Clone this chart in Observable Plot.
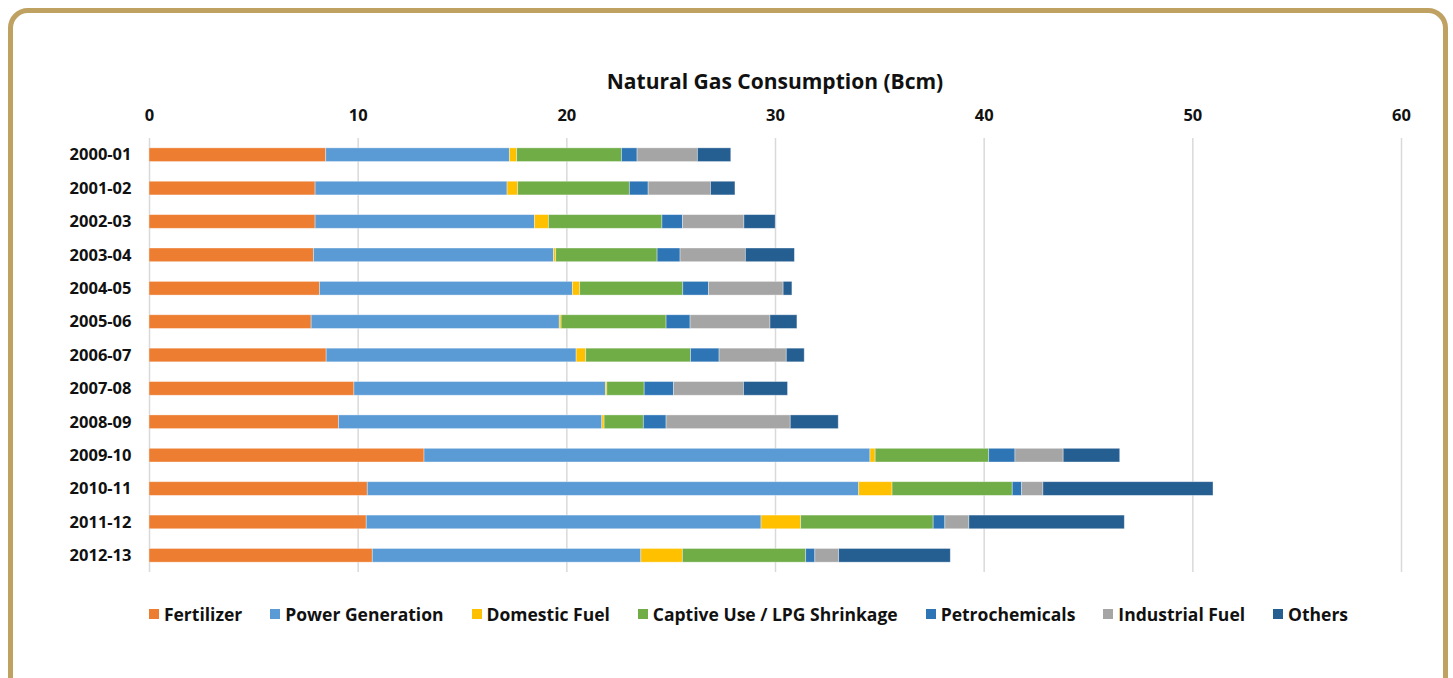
<!DOCTYPE html>
<html>
<head>
<meta charset="utf-8">
<script src="https://cdn.jsdelivr.net/npm/d3@7"></script>
<script src="https://cdn.jsdelivr.net/npm/@observablehq/plot@0.6"></script>
<style>
  html, body { margin: 0; padding: 0; background: #fff; overflow: hidden; }
  #wrap { position: relative; width: 1453px; height: 678px; font-family: "Open Sans", sans-serif; }
  #frame { position: absolute; left: 8px; top: 8px; width: 1430px; height: 700px; border: 5px solid #bfa162; border-radius: 20px; }
  #title { position: absolute; top: 67px; left: 149px; width: 1252px; text-align: center; font-weight: 700; font-size: 21px; color: #111; }
  #chart { position: absolute; left: 0; top: 95px; }
  #legend { position: absolute; top: 602px; left: 0; width: 1453px; display: flex; justify-content: center; gap: 28px; font-weight: 700; font-size: 17.5px; color: #111; box-sizing: border-box; padding-left: 44px; }
  #legend .item { display: flex; align-items: center; gap: 5px; }
  #legend .sw { width: 10px; height: 10px; display: inline-block; }
  #chart text { font-family: "Open Sans", sans-serif; }
</style>
</head>
<body>
<div id="wrap">
  <div id="frame"></div>
  <div id="title">Natural Gas Consumption (Bcm)</div>
  <div id="chart"></div>
  <div id="legend"></div>
</div>
<script>
const years = ["2000-01","2001-02","2002-03","2003-04","2004-05","2005-06","2006-07","2007-08","2008-09","2009-10","2010-11","2011-12","2012-13"];
const seriesNames = ["Fertilizer","Power Generation","Domestic Fuel","Captive Use / LPG Shrinkage","Petrochemicals","Industrial Fuel","Others"];
const seriesColors = ["#ED7D31","#5B9BD5","#FFC000","#70AD47","#2E75B6","#A5A5A5","#255E91"];

const fertilizer      = [8.47, 7.96, 7.96, 7.88, 8.17, 7.77, 8.49, 9.82, 9.08, 13.18, 10.46, 10.41, 10.70];
const powerGeneration = [8.80, 9.20, 10.51, 11.50, 12.12, 11.89, 11.98, 12.05, 12.62, 21.37, 23.55, 18.92, 12.87];
const domesticFuel    = [0.35, 0.51, 0.67, 0.11, 0.35, 0.09, 0.46, 0.07, 0.11, 0.25, 1.60, 1.90, 1.99];
const captiveUse      = [5.02, 5.35, 5.44, 4.86, 4.94, 5.03, 5.02, 1.79, 1.88, 5.44, 5.76, 6.35, 5.91];
const petrochemicals  = [0.75, 0.90, 0.99, 1.10, 1.23, 1.15, 1.37, 1.40, 1.09, 1.26, 0.45, 0.56, 0.44];
const industrialFuel  = [2.89, 2.99, 2.94, 3.13, 3.58, 3.83, 3.22, 3.36, 5.95, 2.31, 1.02, 1.15, 1.14];
const others          = [1.60, 1.17, 1.50, 2.35, 0.42, 1.29, 0.86, 2.11, 2.30, 2.71, 8.15, 7.45, 5.35];
const xTicks = [0, 10, 20, 30, 40, 50, 60];

const seriesValues = [fertilizer, powerGeneration, domesticFuel, captiveUse, petrochemicals, industrialFuel, others];
const data = [];
years.forEach((y, i) => {
  seriesNames.forEach((s, j) => data.push({year: y, series: s, value: seriesValues[j][i]}));
});

const chart = Plot.plot({
  width: 1453,
  height: 482,
  marginLeft: 149,
  marginRight: 52,
  marginTop: 43,
  marginBottom: 5,
  x: {domain: [0, 60], ticks: xTicks, axis: null, label: null},
  y: {domain: years, paddingInner: 0.59, paddingOuter: 0.295, round: false, axis: null, label: null},
  color: {domain: seriesNames, range: seriesColors},
  marks: [
    Plot.gridX(xTicks, {stroke: "#d9d9d9", strokeOpacity: 1, strokeWidth: 1.5}),
    Plot.barX(data, {x: "value", y: "year", fill: "series", stroke: "white", strokeOpacity: 0.45, strokeWidth: 0.8}),
    Plot.axisX(xTicks, {anchor: "top", label: null, tickSize: 0, tickPadding: 18, fontSize: 16.5, fontWeight: 700, fill: "#111", tickFormat: d => String(d)}),
    Plot.axisY({anchor: "left", label: null, tickSize: 0, tickPadding: 18, fontSize: 16.5, fontWeight: 700, fill: "#111"})
  ]
});
document.getElementById("chart").appendChild(chart);

const legend = document.getElementById("legend");
seriesNames.forEach((s, j) => {
  const item = document.createElement("div");
  item.className = "item";
  const sw = document.createElement("span");
  sw.className = "sw";
  sw.style.background = seriesColors[j];
  const t = document.createElement("span");
  t.textContent = s;
  item.appendChild(sw);
  item.appendChild(t);
  legend.appendChild(item);
});
</script>
</body>
</html>
